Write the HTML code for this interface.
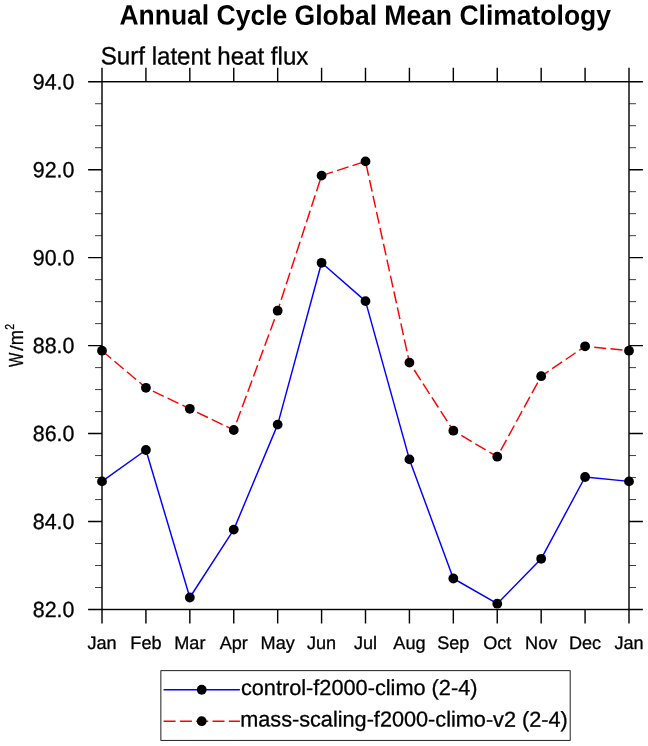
<!DOCTYPE html>
<html lang="en"><head><meta charset="utf-8"><title>Annual Cycle Global Mean Climatology</title>
<style>html,body{margin:0;padding:0;background:#fff}svg{display:block;will-change:transform;font-family:"Liberation Sans",Arial,Helvetica,sans-serif}</style>
</head><body>
<svg width="648" height="746" viewBox="0 0 648 746">
<rect x="0" y="0" width="648" height="746" fill="#fff"/>
<text transform="translate(365.2,24.7) rotate(0.03) scale(1,1.05)" font-size="26.5" font-weight="bold" text-anchor="middle" fill="#000">Annual Cycle Global Mean Climatology</text>
<text transform="translate(100.8,64.35) rotate(0.03) scale(1,1.03)" font-size="24.1" fill="#000" stroke="#000" stroke-width="0.3">Surf latent heat flux</text>
<polyline points="102,481.4 145.92,450 189.83,597.5 233.75,529.6 277.67,424.6 321.58,262.8 365.5,301.1 409.42,459.4 453.33,578.5 497.25,603.7 541.17,558.8 585.08,477 629,481.4" fill="none" stroke="#0000ff" stroke-width="1.45" stroke-linejoin="round"/>
<polyline points="102,350.7 145.92,387.8 189.83,408.8 233.75,430 277.67,310.7 321.58,175.6 365.5,161.4 409.42,362.6 453.33,430.7 497.25,456.7 541.17,376.2 585.08,346.3 629,350.7" fill="none" stroke="#ff0000" stroke-width="1.45" stroke-dasharray="12 4.31" stroke-linejoin="round"/>
<g stroke="#000" fill="none">
<rect x="102" y="81.72" width="527" height="527.78" stroke-width="1.42"/>
<path d="M102 81.72v-13.9M102 609.5v13.9M145.92 81.72v-13.9M145.92 609.5v13.9M189.83 81.72v-13.9M189.83 609.5v13.9M233.75 81.72v-13.9M233.75 609.5v13.9M277.67 81.72v-13.9M277.67 609.5v13.9M321.58 81.72v-13.9M321.58 609.5v13.9M365.5 81.72v-13.9M365.5 609.5v13.9M409.42 81.72v-13.9M409.42 609.5v13.9M453.33 81.72v-13.9M453.33 609.5v13.9M497.25 81.72v-13.9M497.25 609.5v13.9M541.17 81.72v-13.9M541.17 609.5v13.9M585.08 81.72v-13.9M585.08 609.5v13.9M629 81.72v-13.9M629 609.5v13.9M102 609.5h-13.9M629 609.5h13.9M102 521.54h-13.9M629 521.54h13.9M102 433.57h-13.9M629 433.57h13.9M102 345.61h-13.9M629 345.61h13.9M102 257.65h-13.9M629 257.65h13.9M102 169.68h-13.9M629 169.68h13.9M102 81.72h-13.9M629 81.72h13.9" stroke-width="1.42"/>
<path d="M102 587.51h-7M629 587.51h7M102 565.52h-7M629 565.52h7M102 543.53h-7M629 543.53h7M102 499.55h-7M629 499.55h7M102 477.56h-7M629 477.56h7M102 455.56h-7M629 455.56h7M102 411.58h-7M629 411.58h7M102 389.59h-7M629 389.59h7M102 367.6h-7M629 367.6h7M102 323.62h-7M629 323.62h7M102 301.63h-7M629 301.63h7M102 279.64h-7M629 279.64h7M102 235.66h-7M629 235.66h7M102 213.67h-7M629 213.67h7M102 191.67h-7M629 191.67h7M102 147.69h-7M629 147.69h7M102 125.7h-7M629 125.7h7M102 103.71h-7M629 103.71h7" stroke-width="0.75"/>
</g>
<g fill="#000">
<circle cx="102" cy="481.4" r="4.9"/>
<circle cx="145.92" cy="450" r="4.9"/>
<circle cx="189.83" cy="597.5" r="4.9"/>
<circle cx="233.75" cy="529.6" r="4.9"/>
<circle cx="277.67" cy="424.6" r="4.9"/>
<circle cx="321.58" cy="262.8" r="4.9"/>
<circle cx="365.5" cy="301.1" r="4.9"/>
<circle cx="409.42" cy="459.4" r="4.9"/>
<circle cx="453.33" cy="578.5" r="4.9"/>
<circle cx="497.25" cy="603.7" r="4.9"/>
<circle cx="541.17" cy="558.8" r="4.9"/>
<circle cx="585.08" cy="477" r="4.9"/>
<circle cx="629" cy="481.4" r="4.9"/>
<circle cx="102" cy="350.7" r="4.9"/>
<circle cx="145.92" cy="387.8" r="4.9"/>
<circle cx="189.83" cy="408.8" r="4.9"/>
<circle cx="233.75" cy="430" r="4.9"/>
<circle cx="277.67" cy="310.7" r="4.9"/>
<circle cx="321.58" cy="175.6" r="4.9"/>
<circle cx="365.5" cy="161.4" r="4.9"/>
<circle cx="409.42" cy="362.6" r="4.9"/>
<circle cx="453.33" cy="430.7" r="4.9"/>
<circle cx="497.25" cy="456.7" r="4.9"/>
<circle cx="541.17" cy="376.2" r="4.9"/>
<circle cx="585.08" cy="346.3" r="4.9"/>
<circle cx="629" cy="350.7" r="4.9"/>
</g>
<g font-size="21.4" text-anchor="end" fill="#000" stroke="#000" stroke-width="0.3">
<text transform="translate(74.4,617) rotate(0.03) scale(1,1.02)">82.0</text>
<text transform="translate(74.4,529.04) rotate(0.03) scale(1,1.02)">84.0</text>
<text transform="translate(74.4,441.07) rotate(0.03) scale(1,1.02)">86.0</text>
<text transform="translate(74.4,353.11) rotate(0.03) scale(1,1.02)">88.0</text>
<text transform="translate(74.4,265.15) rotate(0.03) scale(1,1.02)">90.0</text>
<text transform="translate(74.4,177.18) rotate(0.03) scale(1,1.02)">92.0</text>
<text transform="translate(74.4,89.22) rotate(0.03) scale(1,1.02)">94.0</text>
</g>
<g font-size="18.1" text-anchor="middle" fill="#000" stroke="#000" stroke-width="0.3">
<text transform="translate(102,648.9) rotate(0.03)">Jan</text>
<text transform="translate(145.92,648.9) rotate(0.03)">Feb</text>
<text transform="translate(189.83,648.9) rotate(0.03)">Mar</text>
<text transform="translate(233.75,648.9) rotate(0.03)">Apr</text>
<text transform="translate(277.67,648.9) rotate(0.03)">May</text>
<text transform="translate(321.58,648.9) rotate(0.03)">Jun</text>
<text transform="translate(365.5,648.9) rotate(0.03)">Jul</text>
<text transform="translate(409.42,648.9) rotate(0.03)">Aug</text>
<text transform="translate(453.33,648.9) rotate(0.03)">Sep</text>
<text transform="translate(497.25,648.9) rotate(0.03)">Oct</text>
<text transform="translate(541.17,648.9) rotate(0.03)">Nov</text>
<text transform="translate(585.08,648.9) rotate(0.03)">Dec</text>
<text transform="translate(629,648.9) rotate(0.03)">Jan</text>
</g>
<g fill="#000" font-size="20" stroke="#000" stroke-width="0.3">
<text transform="translate(22.7,367.1) rotate(-90) scale(0.76,1)">W</text>
<text transform="translate(22.7,350.8) rotate(-90) scale(1,0.9)">/</text>
<text transform="translate(22.7,345.2) rotate(-90) scale(0.92,1)">m</text>
<text transform="translate(14.1,329.8) rotate(-90) scale(0.85,1)" font-size="12.3">2</text>
</g>
<rect x="160.87" y="670.67" width="409.3" height="69.7" fill="#fff" stroke="#000" stroke-width="0.88"/>
<line x1="163.6" y1="689.75" x2="239.9" y2="689.75" stroke="#0000ff" stroke-width="1.45"/>
<line x1="163.6" y1="721.2" x2="239.9" y2="721.2" stroke="#ff0000" stroke-width="1.45" stroke-dasharray="12 4.31"/>
<circle cx="201.7" cy="689.75" r="4.9" fill="#000"/>
<circle cx="201.7" cy="721.2" r="4.9" fill="#000"/>
<text transform="translate(240.9,695.0) rotate(0.03)" font-size="21.73" fill="#000" stroke="#000" stroke-width="0.3">control-f2000-climo (2-4)</text>
<text transform="translate(240.2,726.5) rotate(0.03)" font-size="21.68" fill="#000" stroke="#000" stroke-width="0.3">mass-scaling-f2000-climo-v2 (2-4)</text>
</svg></body></html>
